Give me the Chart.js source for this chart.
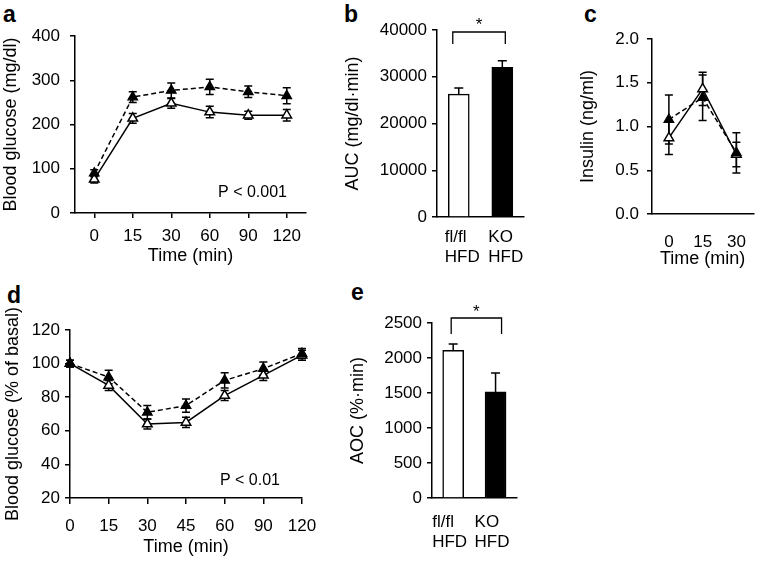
<!DOCTYPE html>
<html>
<head>
<meta charset="utf-8">
<script src="https://cdn.jsdelivr.net/npm/chart.js@4.4.1/dist/chart.umd.min.js"></script>
<style>
  body { margin: 0; background: #fff; width: 765px; height: 563px; position: relative; overflow: hidden;
         font-family: "Liberation Sans", Arial, sans-serif; }
  canvas { position: absolute; }
  .panel { position: absolute; font-weight: bold; font-size: 23px; line-height: 23px; color: #000; }
</style>
</head>
<body>
<div class="panel" style="left:3px;top:3px">a</div>
<div class="panel" style="left:344px;top:3px">b</div>
<div class="panel" style="left:584px;top:3px">c</div>
<div class="panel" style="left:7px;top:284px">d</div>
<div class="panel" style="left:351px;top:281px">e</div>

<canvas id="chartA" width="315" height="270" style="left:0;top:0"></canvas>
<canvas id="chartB" width="208" height="270" style="left:342px;top:0"></canvas>
<canvas id="chartC" width="188" height="270" style="left:577px;top:0"></canvas>
<canvas id="chartD" width="330" height="303" style="left:0;top:260px"></canvas>
<canvas id="chartE" width="200" height="303" style="left:347px;top:260px"></canvas>

<script>
// a: glucose tolerance
const ogttTimes = ['0', '15', '30', '60', '90', '120'];
const ogttKO = [90, 262, 277, 285, 274, 265];
const ogttKOErr = [8, 12, 17, 17, 13, 18];
const ogttFl = [76, 214, 248, 228, 221, 221];
const ogttFlErr = [8, 11, 11, 13, 9, 13];

// b: area under curve
const aucGroups = [['fl/fl', 'HFD'], ['KO', 'HFD']];
const aucValues = [26300, 32000];
const aucErr = [1300, 1400];

// c: insulin
const insulinTimes = ['0', '15', '30'];
const insulinKO = [1.08, 1.33, 0.70];
const insulinKOErr = [0.28, 0.26, 0.23];
const insulinFl = [0.87, 1.43, 0.68];
const insulinFlErr = [0.19, 0.19, 0.14];

// d: insulin tolerance
const ittTimes = ['0', '15', '30', '45', '60', '90', '120'];
const ittKO = [100, 92, 71, 75, 90, 97, 106];
const ittKOErr = [2, 4, 4, 4, 4.5, 4, 3];
const ittFl = [100, 87, 64, 65, 81, 93, 105];
const ittFlErr = [2, 3, 3, 3, 3, 3, 3];

// e: area over curve
const aocGroups = [['fl/fl', 'HFD'], ['KO', 'HFD']];
const aocValues = [2110, 1515];
const aocErr = [90, 270];

Chart.defaults.font.family = '"Liberation Sans", Arial, sans-serif';
Chart.defaults.color = '#000';

// whiskers: lines get both directions (drawn under the markers), bars only upward
function drawErrors(chart, type) {
    const ctx = chart.ctx;
    const y = chart.scales.y;
    chart.data.datasets.forEach((ds, i) => {
        if (!ds.errors) return;
        const meta = chart.getDatasetMeta(i);
        if (meta.type !== type) return;
        const cap = type === 'bar' ? 4.5 : 4;
        ctx.save();
        ctx.strokeStyle = '#000';
        ctx.lineWidth = 1.5;
        ctx.setLineDash([]);
        meta.data.forEach((el, j) => {
            const v = ds.data[j], e = ds.errors[j];
            const top = y.getPixelForValue(v + e);
            const bottom = type === 'bar' ? el.y : y.getPixelForValue(v - e);
            ctx.beginPath();
            ctx.moveTo(el.x, top);
            ctx.lineTo(el.x, bottom);
            ctx.moveTo(el.x - cap, top);
            ctx.lineTo(el.x + cap, top);
            if (type === 'line') {
                ctx.moveTo(el.x - cap, bottom);
                ctx.lineTo(el.x + cap, bottom);
            }
            ctx.stroke();
        });
        ctx.restore();
    });
}

const errorBars = {
    id: 'errorBars',
    beforeDatasetsDraw(chart) { drawErrors(chart, 'line'); },
    afterDatasetsDraw(chart) { drawErrors(chart, 'bar'); }
};

const pText = {
    id: 'pText',
    afterDraw(chart, args, opts) {
        if (!opts.text) return;
        const ctx = chart.ctx, area = chart.chartArea;
        ctx.save();
        ctx.font = '16px "Liberation Sans", Arial, sans-serif';
        ctx.fillStyle = '#000';
        ctx.textAlign = 'right';
        ctx.textBaseline = 'alphabetic';
        ctx.fillText(opts.text, area.right + opts.dx, area.bottom + opts.dy);
        ctx.restore();
    }
};

const sigBracket = {
    id: 'sigBracket',
    afterDraw(chart, args, opts) {
        if (!opts.show) return;
        const ctx = chart.ctx, x = chart.scales.x, top = chart.chartArea.top;
        const x0 = x.getPixelForValue(0) + opts.left;
        const x1 = x.getPixelForValue(1) + opts.right;
        const yTop = top + opts.top, yLeg = top + opts.leg;
        ctx.save();
        ctx.strokeStyle = '#000';
        ctx.lineWidth = 1.3;
        ctx.beginPath();
        ctx.moveTo(x0, yLeg);
        ctx.lineTo(x0, yTop);
        ctx.lineTo(x1, yTop);
        ctx.lineTo(x1, yLeg);
        ctx.stroke();
        ctx.font = '17px "Liberation Sans", Arial, sans-serif';
        ctx.fillStyle = '#000';
        ctx.textAlign = 'center';
        ctx.fillText('*', (x0 + x1) / 2, yTop + opts.star);
        ctx.restore();
    }
};

function yAxis(min, max, step, width, pad, title, fmt) {
    return {
        min: min,
        max: max,
        ticks: { stepSize: step, color: '#000', font: { size: 17 }, padding: pad, callback: fmt },
        grid: { drawOnChartArea: false, tickLength: 5, color: '#000', lineWidth: 1.5 },
        border: { color: '#000', width: 1.5 },
        title: { display: true, text: title, color: '#000', font: { size: 18 }, padding: 0 },
        afterFit: s => { s.width = width; }
    };
}

function xAxis(opts) {
    return {
        offset: opts.offset,
        ticks: { color: '#000', font: { size: 17 }, padding: opts.pad, autoSkip: false, maxRotation: 0,
                 align: opts.align || 'center', labelOffset: opts.labelOffset || 0 },
        grid: { offset: false, drawOnChartArea: false, drawTicks: opts.ticks, tickLength: opts.tickLength || 5,
                color: '#000', lineWidth: 1.5 },
        border: { color: '#000', width: 1.5 },
        title: { display: !!opts.title, text: opts.title, color: '#000', font: { size: 18 }, padding: 0 },
        afterFit: s => { s.height = opts.height; }
    };
}

function lineSets(ko, koErr, fl, flErr) {
    return [
        {
            label: 'KO HFD', data: ko, errors: koErr,
            borderColor: '#000', borderWidth: 1.5, borderDash: [5, 3],
            pointStyle: 'triangle', pointRadius: 5.5, pointBackgroundColor: '#000',
            pointBorderColor: '#000', pointBorderWidth: 1.3, clip: false
        },
        {
            label: 'fl/fl HFD', data: fl, errors: flErr,
            borderColor: '#000', borderWidth: 1.5,
            pointStyle: 'triangle', pointRadius: 5.5, pointBackgroundColor: '#fff',
            pointBorderColor: '#000', pointBorderWidth: 1.5, clip: false
        }
    ];
}

function barSet(values, err) {
    return [{
        data: values, errors: err,
        backgroundColor: ['#fff', '#000'], borderColor: '#000', borderWidth: 1.5,
        barThickness: 21
    }];
}

function baseOptions(padding, plugins) {
    return {
        responsive: false,
        animation: false,
        devicePixelRatio: 1,
        layout: { padding: padding },
        plugins: Object.assign({ legend: { display: false }, tooltip: { enabled: false } }, plugins)
    };
}

// a
new Chart(document.getElementById('chartA'), {
    type: 'line',
    data: { labels: ogttTimes, datasets: lineSets(ogttKO, ogttKOErr, ogttFl, ogttFlErr) },
    options: Object.assign(baseOptions({ left: 0, top: 36, right: 9, bottom: 3 },
        { pText: { text: 'P < 0.001', dx: -19, dy: -16 } }), {
        scales: {
            x: xAxis({ offset: true, pad: 8, ticks: true, tickLength: 5, height: 54, title: 'Time (min)' }),
            y: yAxis(0, 400, 100, 75, 10, 'Blood glucose (mg/dl)')
        }
    }),
    plugins: [errorBars, pText]
});

// b
new Chart(document.getElementById('chartB'), {
    type: 'bar',
    data: { labels: aucGroups, datasets: barSet(aucValues, aucErr) },
    options: Object.assign(baseOptions({ left: 0, top: 30, right: 11, bottom: 0 },
        { sigBracket: { show: true, left: -6, right: 3, top: 2, leg: 14, star: -2 } }), {
        scales: {
            x: xAxis({ offset: true, pad: 10, ticks: false, height: 53, align: 'start', labelOffset: -14 }),
            y: yAxis(0, 40000, 10000, 95, 5, 'AUC (mg/dl\u00b7min)', v => v)
        }
    }),
    plugins: [errorBars, sigBracket]
});

// c
new Chart(document.getElementById('chartC'), {
    type: 'line',
    data: { labels: insulinTimes, datasets: lineSets(insulinKO, insulinKOErr, insulinFl, insulinFlErr) },
    options: Object.assign(baseOptions({ left: 0, top: 39, right: 0, bottom: 0 }, {}), {
        scales: {
            x: xAxis({ offset: true, pad: 18, ticks: false, height: 56, title: 'Time (min)' }),
            y: yAxis(0, 2, 0.5, 75, 8, 'Insulin (ng/ml)', v => v.toFixed(1))
        }
    }),
    plugins: [errorBars]
});

// d
new Chart(document.getElementById('chartD'), {
    type: 'line',
    data: { labels: ittTimes, datasets: lineSets(ittKO, ittKOErr, ittFl, ittFlErr) },
    options: Object.assign(baseOptions({ left: 2, top: 70, right: 28, bottom: 5 },
        { pText: { text: 'P < 0.01', dx: -22, dy: -13 } }), {
        scales: {
            x: xAxis({ offset: false, pad: 12, ticks: true, tickLength: 6, height: 60, title: 'Time (min)' }),
            y: yAxis(20, 120, 20, 68, 5, 'Blood glucose (% of basal)')
        }
    }),
    plugins: [errorBars, pText]
});

// e
new Chart(document.getElementById('chartE'), {
    type: 'bar',
    data: { labels: aocGroups, datasets: barSet(aocValues, aocErr) },
    options: Object.assign(baseOptions({ left: 0, top: 63, right: 10, bottom: 5 },
        { sigBracket: { show: true, left: -2, right: 6, top: -5, leg: 11, star: -1.5 } }), {
        scales: {
            x: xAxis({ offset: true, pad: 14, ticks: false, height: 60, align: 'start', labelOffset: -21 }),
            y: yAxis(0, 2500, 500, 85, 5, 'AOC (%\u00b7min)', v => v)
        }
    }),
    plugins: [errorBars, sigBracket]
});
</script>
</body>
</html>
